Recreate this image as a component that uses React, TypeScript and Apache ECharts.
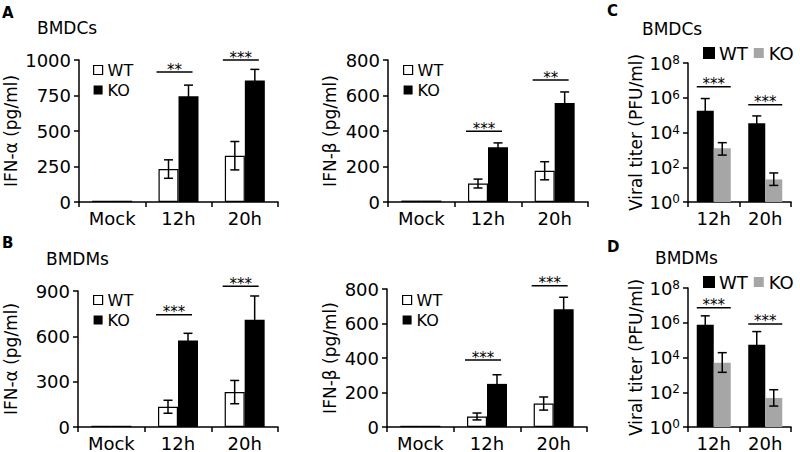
import React, { useEffect, useRef } from "react";
import * as echarts from "echarts";

const FONT = "DejaVu Sans";

// ---------- categories ----------
const timeCats = ["Mock", "12h", "20h"];
const virusCats = ["12h", "20h"];
const groups = ["WT", "KO"];

// ---------- A: BMDCs, IFN-α (pg/ml) ----------
const aAlphaWT = [9, 232, 326];
const aAlphaWTErr = [0, 65, 100];
const aAlphaKO = [9, 745, 856];
const aAlphaKOErr = [0, 78, 78];
const aAlphaSig = ["", "**", "***"];
const aAlphaSigY = [0, 915, 1000];

// ---------- A: BMDCs, IFN-β (pg/ml) ----------
const aBetaWT = [8, 104, 176];
const aBetaWTErr = [0, 25, 51];
const aBetaKO = [8, 308, 558];
const aBetaKOErr = [0, 25, 62];
const aBetaSig = ["", "***", "**"];
const aBetaSigY = [0, 399, 687];

// ---------- B: BMDMs, IFN-α (pg/ml) ----------
const bAlphaWT = [8, 134, 231];
const bAlphaWTErr = [0, 43, 77];
const bAlphaKO = [8, 572, 710];
const bAlphaKOErr = [0, 48, 157];
const bAlphaSig = ["", "***", "***"];
const bAlphaSigY = [0, 743, 932];

// ---------- B: BMDMs, IFN-β (pg/ml) ----------
const bBetaWT = [7, 61, 136];
const bBetaWTErr = [0, 20, 38];
const bBetaKO = [7, 250, 682];
const bBetaKOErr = [0, 53, 70];
const bBetaSig = ["", "***", "***"];
const bBetaSigY = [0, 388, 819];

// ---------- C: BMDCs viral titer (PFU/ml) ----------
const cWT = [1.8e5, 3.4e4];
const cWTLow = [3.6e4, 1.3e4];
const cWTHigh = [9e5, 9e4];
const cKO = [1.26e3, 20];
const cKOLow = [5e2, 9];
const cKOHigh = [2.6e3, 47];
const cSig = ["***", "***"];
const cSigY = [4.3e6, 4e5];

// ---------- D: BMDMs viral titer (PFU/ml) ----------
const dWT = [7.7e5, 5.5e4];
const dWTLow = [2.4e5, 1e4];
const dWTHigh = [2.5e6, 3.1e5];
const dKO = [5e3, 47];
const dKOLow = [1.4e3, 16];
const dKOHigh = [1.9e4, 140];
const dSig = ["***", "***"];
const dSigY = [7.4e6, 8.5e5];

// log-axis exponent ticks (10^0 ... 10^8)
const logMinExp = 0;
const logMaxExp = 8;
const logStepExp = 2;

// ---------- helpers ----------
const lg = (v: number) => Math.log10(v);
const axisLine = { show: true, lineStyle: { color: "#000", width: 1.5 } };
const axisTick = { show: true, length: 5, lineStyle: { color: "#000", width: 1.5 } };

function catAxis(gridIndex: number, data: string[]) {
  return {
    type: "category",
    gridIndex,
    data,
    axisLine,
    axisTick,
    axisLabel: { color: "#000", fontSize: 18, fontFamily: FONT, margin: 7 },
  };
}

function valAxis(gridIndex: number, max: number, interval: number, name: string, nameGap: number) {
  return {
    type: "value",
    gridIndex,
    min: 0,
    max,
    interval,
    name,
    nameLocation: "middle",
    nameGap,
    nameTextStyle: { color: "#000", fontSize: 17, fontFamily: FONT },
    axisLine,
    axisTick,
    splitLine: { show: false },
    axisLabel: {
      color: "#000",
      fontSize: 18,
      fontFamily: FONT,
      margin: 8,
      formatter: (v: number) => String(v),
    },
  };
}

// value axis in log10 space (exponents), labelled as powers of ten
function logAxis(gridIndex: number, name: string, nameGap: number) {
  return {
    type: "value",
    gridIndex,
    min: logMinExp,
    max: logMaxExp,
    interval: logStepExp,
    name,
    nameLocation: "middle",
    nameGap,
    nameTextStyle: { color: "#000", fontSize: 17, fontFamily: FONT },
    axisLine,
    axisTick,
    splitLine: { show: false },
    axisLabel: {
      color: "#000",
      fontSize: 18,
      fontFamily: FONT,
      margin: 8,
      formatter: (v: number) => `10{s|${Math.round(v)}}`,
      rich: { s: { fontSize: 12, fontFamily: FONT, color: "#000", verticalAlign: "top", padding: [0, 0, 6, 0] } },
    },
  };
}

function errSeries(idx: number, data: number[][], offset: number) {
  return {
    type: "custom",
    xAxisIndex: idx,
    yAxisIndex: idx,
    silent: true,
    z: 5,
    encode: { x: 0, y: [1, 2] },
    data,
    renderItem: (_p: any, api: any) => {
      const c = api.value(0);
      const lo = api.coord([c, api.value(1)]);
      const hi = api.coord([c, api.value(2)]);
      const x = hi[0] + offset;
      const st = { stroke: "#000", lineWidth: 1.5 };
      const cap = 4.5;
      return {
        type: "group",
        children: [
          { type: "line", shape: { x1: x, y1: lo[1], x2: x, y2: hi[1] }, style: st },
          { type: "line", shape: { x1: x - cap, y1: hi[1], x2: x + cap, y2: hi[1] }, style: st },
          { type: "line", shape: { x1: x - cap, y1: lo[1], x2: x + cap, y2: lo[1] }, style: st },
        ],
      };
    },
  };
}

function sigSeries(idx: number, labels: string[], ys: number[], half: number, shift: number) {
  const data: number[][] = [];
  const texts: string[] = [];
  labels.forEach((l, j) => {
    if (l) {
      data.push([j, ys[j]]);
      texts.push(l);
    }
  });
  return {
    type: "custom",
    xAxisIndex: idx,
    yAxisIndex: idx,
    silent: true,
    z: 6,
    data,
    renderItem: (p: any, api: any) => {
      const pt = api.coord([api.value(0), api.value(1)]);
      const x = pt[0] + shift;
      const y = pt[1];
      return {
        type: "group",
        children: [
          { type: "line", shape: { x1: x - half, y1: y, x2: x + half, y2: y }, style: { stroke: "#000", lineWidth: 1.5 } },
          {
            type: "text",
            x,
            y: y + 5,
            style: {
              text: texts[p.dataIndex],
              fontSize: 15,
              fontFamily: FONT,
              fill: "#000",
              align: "center",
              verticalAlign: "bottom",
            },
          },
        ],
      };
    },
  };
}

function linearPanel(
  idx: number,
  wt: number[],
  wtErr: number[],
  ko: number[],
  koErr: number[],
  sig: string[],
  sigY: number[]
) {
  const bw = 20;
  const wtE: number[][] = [];
  const koE: number[][] = [];
  wt.forEach((v, j) => {
    if (wtErr[j] > 0) wtE.push([j, v - wtErr[j], v + wtErr[j]]);
  });
  ko.forEach((v, j) => {
    if (koErr[j] > 0) koE.push([j, v - koErr[j], v + koErr[j]]);
  });
  return [
    {
      type: "bar",
      name: groups[0],
      xAxisIndex: idx,
      yAxisIndex: idx,
      data: wt,
      barWidth: bw,
      barGap: "0%",
      itemStyle: { color: "#fff", borderColor: "#000", borderWidth: 1.2 },
    },
    {
      type: "bar",
      name: groups[1],
      xAxisIndex: idx,
      yAxisIndex: idx,
      data: ko,
      barWidth: bw,
      barGap: "0%",
      itemStyle: { color: "#000" },
    },
    errSeries(idx, wtE, -bw / 2),
    errSeries(idx, koE, bw / 2),
    sigSeries(idx, sig, sigY, 18, -4),
  ];
}

function logPanel(
  idx: number,
  wt: number[],
  wtLo: number[],
  wtHi: number[],
  ko: number[],
  koLo: number[],
  koHi: number[],
  sig: string[],
  sigY: number[]
) {
  const bw = 17;
  return [
    {
      type: "bar",
      name: groups[0],
      xAxisIndex: idx,
      yAxisIndex: idx,
      data: wt.map(lg),
      barWidth: bw,
      barGap: "0%",
      itemStyle: { color: "#000" },
    },
    {
      type: "bar",
      name: groups[1],
      xAxisIndex: idx,
      yAxisIndex: idx,
      data: ko.map(lg),
      barWidth: bw,
      barGap: "0%",
      itemStyle: { color: "#a6a6a6" },
    },
    errSeries(idx, wt.map((_, j) => [j, lg(wtLo[j]), lg(wtHi[j])]), -bw / 2),
    errSeries(idx, ko.map((_, j) => [j, lg(koLo[j]), lg(koHi[j])]), bw / 2),
    sigSeries(idx, sig, sigY.map(lg), 17, 0),
  ];
}

function vLegend(left: number, top: number) {
  return {
    orient: "vertical",
    left,
    top,
    padding: 0,
    itemWidth: 9,
    itemHeight: 9,
    itemGap: 4,
    icon: "rect",
    selectedMode: false,
    textStyle: { color: "#000", fontSize: 16, fontFamily: FONT },
    data: [
      { name: "WT", itemStyle: { color: "#fff", borderColor: "#000", borderWidth: 1.2 } },
      { name: "KO", itemStyle: { color: "#000" } },
    ],
  };
}

function hLegend(left: number, top: number) {
  return {
    orient: "horizontal",
    left,
    top,
    padding: 0,
    itemWidth: 10,
    itemHeight: 10,
    itemGap: 6,
    icon: "rect",
    selectedMode: false,
    textStyle: { color: "#000", fontSize: 18, fontFamily: FONT },
    data: [
      { name: "WT", itemStyle: { color: "#000" } },
      { name: "KO", itemStyle: { color: "#a6a6a6" } },
    ],
  };
}

function txt(text: string, left: number, top: number, size: number, bold = false) {
  return {
    text,
    left,
    top,
    padding: 0,
    textStyle: { color: "#000", fontSize: size, fontWeight: bold ? "bold" : "normal", fontFamily: FONT },
  };
}

export default function App() {
  const ref = useRef<HTMLDivElement>(null);
  useEffect(() => {
    if (!ref.current) return;
    const chart = echarts.init(ref.current, undefined, { renderer: "svg" });
    chart.setOption({
      animation: false,
      backgroundColor: "#fff",
      title: [
        txt("A", 2, 5, 15, true),
        txt("BMDCs", 37, 19, 17),
        txt("B", 2, 235, 15, true),
        txt("BMDMs", 46, 250, 17),
        txt("C", 607, 3, 15, true),
        txt("BMDCs", 642, 20, 17),
        txt("D", 607, 239, 15, true),
        txt("BMDMs", 655, 249, 17),
      ],
      legend: [vLegend(93, 62), vLegend(403, 62), hLegend(703, 44), vLegend(93, 292), vLegend(402, 292), hLegend(703, 273)],
      grid: [
        { left: 79, top: 60, width: 199, height: 142 },
        { left: 388, top: 60, width: 200, height: 142 },
        { left: 688, top: 63, width: 103, height: 139 },
        { left: 78, top: 291, width: 200, height: 139 },
        { left: 387, top: 289, width: 200, height: 141 },
        { left: 688, top: 288, width: 103, height: 140 },
      ],
      xAxis: [
        catAxis(0, timeCats),
        catAxis(1, timeCats),
        catAxis(2, virusCats),
        catAxis(3, timeCats),
        catAxis(4, timeCats),
        catAxis(5, virusCats),
      ],
      yAxis: [
        valAxis(0, 1000, 250, "IFN-α (pg/ml)", 60),
        valAxis(1, 800, 200, "IFN-β (pg/ml)", 50),
        logAxis(2, "Viral titer (PFU/ml)", 44),
        valAxis(3, 900, 300, "IFN-α (pg/ml)", 59),
        valAxis(4, 800, 200, "IFN-β (pg/ml)", 49),
        logAxis(5, "Viral titer (PFU/ml)", 44),
      ],
      series: [
        ...linearPanel(0, aAlphaWT, aAlphaWTErr, aAlphaKO, aAlphaKOErr, aAlphaSig, aAlphaSigY),
        ...linearPanel(1, aBetaWT, aBetaWTErr, aBetaKO, aBetaKOErr, aBetaSig, aBetaSigY),
        ...logPanel(2, cWT, cWTLow, cWTHigh, cKO, cKOLow, cKOHigh, cSig, cSigY),
        ...linearPanel(3, bAlphaWT, bAlphaWTErr, bAlphaKO, bAlphaKOErr, bAlphaSig, bAlphaSigY),
        ...linearPanel(4, bBetaWT, bBetaWTErr, bBetaKO, bBetaKOErr, bBetaSig, bBetaSigY),
        ...logPanel(5, dWT, dWTLow, dWTHigh, dKO, dKOLow, dKOHigh, dSig, dSigY),
      ],
    });
    return () => chart.dispose();
  }, []);
  return (
    <div
      ref={ref}
      style={{ position: "fixed", left: 0, top: 0, width: 800, height: 452, background: "#fff" }}
    />
  );
}
